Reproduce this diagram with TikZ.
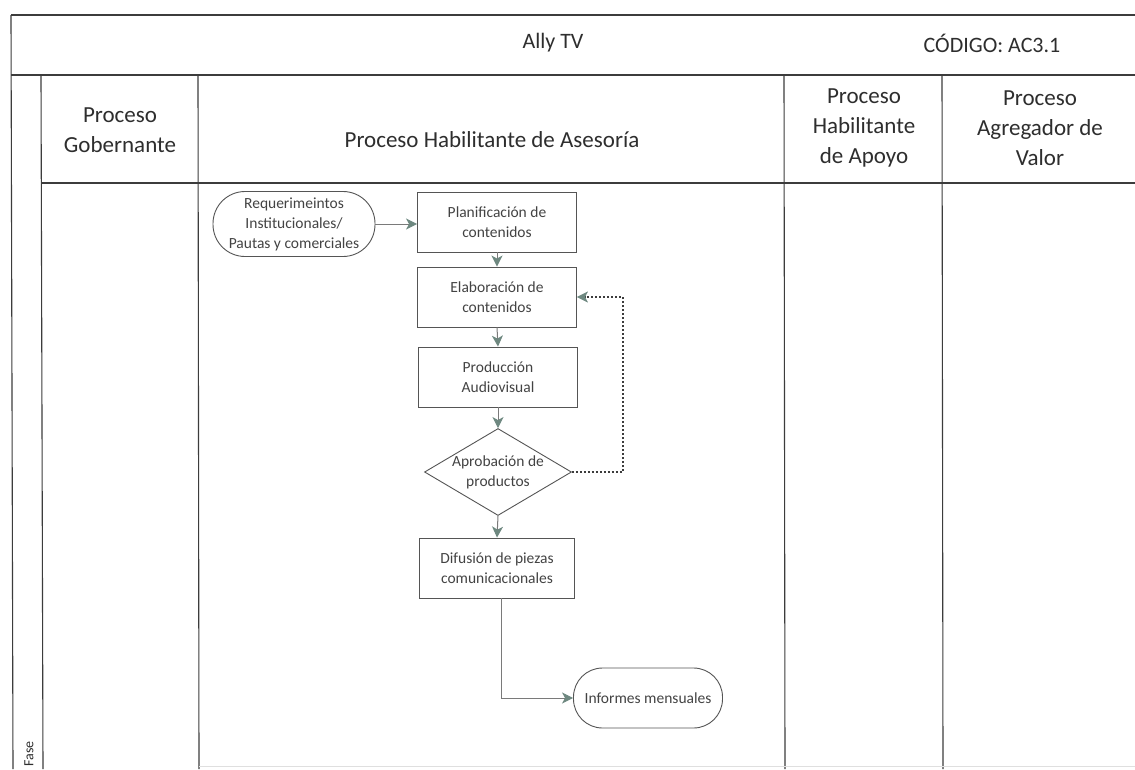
\documentclass[tikz,border=0pt]{standalone}
\usepackage{fontspec}
\setmainfont{Carlito}
\usetikzlibrary{arrows.meta,shapes.geometric}
\definecolor{rule}{HTML}{3C3C3C}
\definecolor{boxline}{HTML}{555555}
\definecolor{wire}{HTML}{7A7A7A}
\definecolor{tip}{HTML}{6E8880}
\definecolor{ink}{HTML}{2E2E2E}
\tikzset{
  grid/.style={draw=rule, line width=1.1pt},
  head/.style={align=center, font=\fontsize{23}{30}\selectfont, text=ink, inner sep=0pt},
  txt/.style={font=\fontsize{15.5}{20}\selectfont, text=ink!90, align=center},
  stepbox/.style={txt, draw=boxline, line width=0.9pt, rectangle, minimum width=159pt, minimum height=60pt, inner sep=1pt},
  terminal/.style={txt, draw=boxline, line width=0.9pt, rectangle, rounded corners=29pt, inner sep=1pt},
  decision/.style={draw=boxline, line width=0.9pt, diamond, minimum width=147pt, minimum height=87pt, inner sep=0pt},
  flow/.style={draw=wire, line width=1pt, -{Stealth[length=11pt,width=11pt,inset=3pt,fill=tip,color=tip]}},
  back/.style={draw=rule, line width=1.8pt, dash pattern=on 2pt off 2pt, -{Stealth[length=11pt,width=11pt,inset=3pt,fill=tip,color=tip,line width=0.5pt]}}
}
\begin{document}
\begin{tikzpicture}[x=1pt,y=-1pt]
\path[use as bounding box, fill=white] (0,0) rectangle (1135,769);
\clip (0,0) rectangle (1135,769);

% frame and lane grid
\draw[grid] (11,15) -- (1135,15);
\draw[grid] (11,75) -- (1135,75);
\draw[grid] (42,183) -- (1135,183);
\draw[grid] (11,15) -- (13,769);
\draw[grid] (41,75) -- (43,769);
\draw[grid] (198,75) -- (199,769);
\draw[grid] (784,75) -- (785,769);
\draw[grid] (942,75) -- (943,769);
\draw[gray!25, line width=0.8pt] (199,766) -- (1135,766);

% title row
\node[head, font=\fontsize{22}{28}\selectfont] (title) at (553,43) {Ally TV};
\node[head, font=\fontsize{22}{28}\selectfont] (code) at (992,43) {CÓDIGO: AC3.1};

% lane headers
\node[head] (h1) at (120,130) {Proceso\\Gobernante};
\node[head] (h2) at (492,140) {Proceso Habilitante de Asesoría};
\node[head] (h3) at (864,128) {Proceso\\Habilitante\\de Apoyo};
\node[head] (h4) at (1040,128) {Proceso\\Agregador de\\Valor};
\node[rotate=90, anchor=east, inner sep=0pt, text=ink, font=\fontsize{14}{16}\selectfont] (fase) at (29,741) {Fase};

% process flow
\node[terminal, minimum width=162pt, minimum height=65pt, rounded corners=32pt] (req) at (294,224) {Requerimeintos\\Institucionales/\\Pautas y comerciales};
\node[stepbox] (plan) at (497,222) {Planificación de\\contenidos};
\node[stepbox] (elab) at (497,297) {Elaboración de\\contenidos};
\node[stepbox] (prod) at (498,377) {Producción\\Audiovisual};
\node[decision] (apro) at (498,472) {};
\node[txt] (aprotext) at (apro.center) {Aprobación de\\productos};
\node[stepbox, minimum width=155pt] (dif) at (497,568) {Difusión de piezas\\comunicacionales};
\node[terminal, minimum width=149pt, minimum height=60pt] (inf) at (648,698) {Informes mensuales};

\coordinate (loop) at ([xshift=51pt]apro.east);

\draw[flow] (req.east) -- (req.east -| plan.west);
\draw[flow] (plan.south) -- (elab.north);
\draw[flow] (elab.south) -- (prod.north);
\draw[flow] (prod.south) -- (apro.north);
\draw[flow] (apro.south) -- (dif.north);
\draw[flow] ([xshift=4pt]dif.south) |- (inf.west);
\draw[back] (apro.east) -- (loop) |- (elab.east);
\end{tikzpicture}
\end{document}
